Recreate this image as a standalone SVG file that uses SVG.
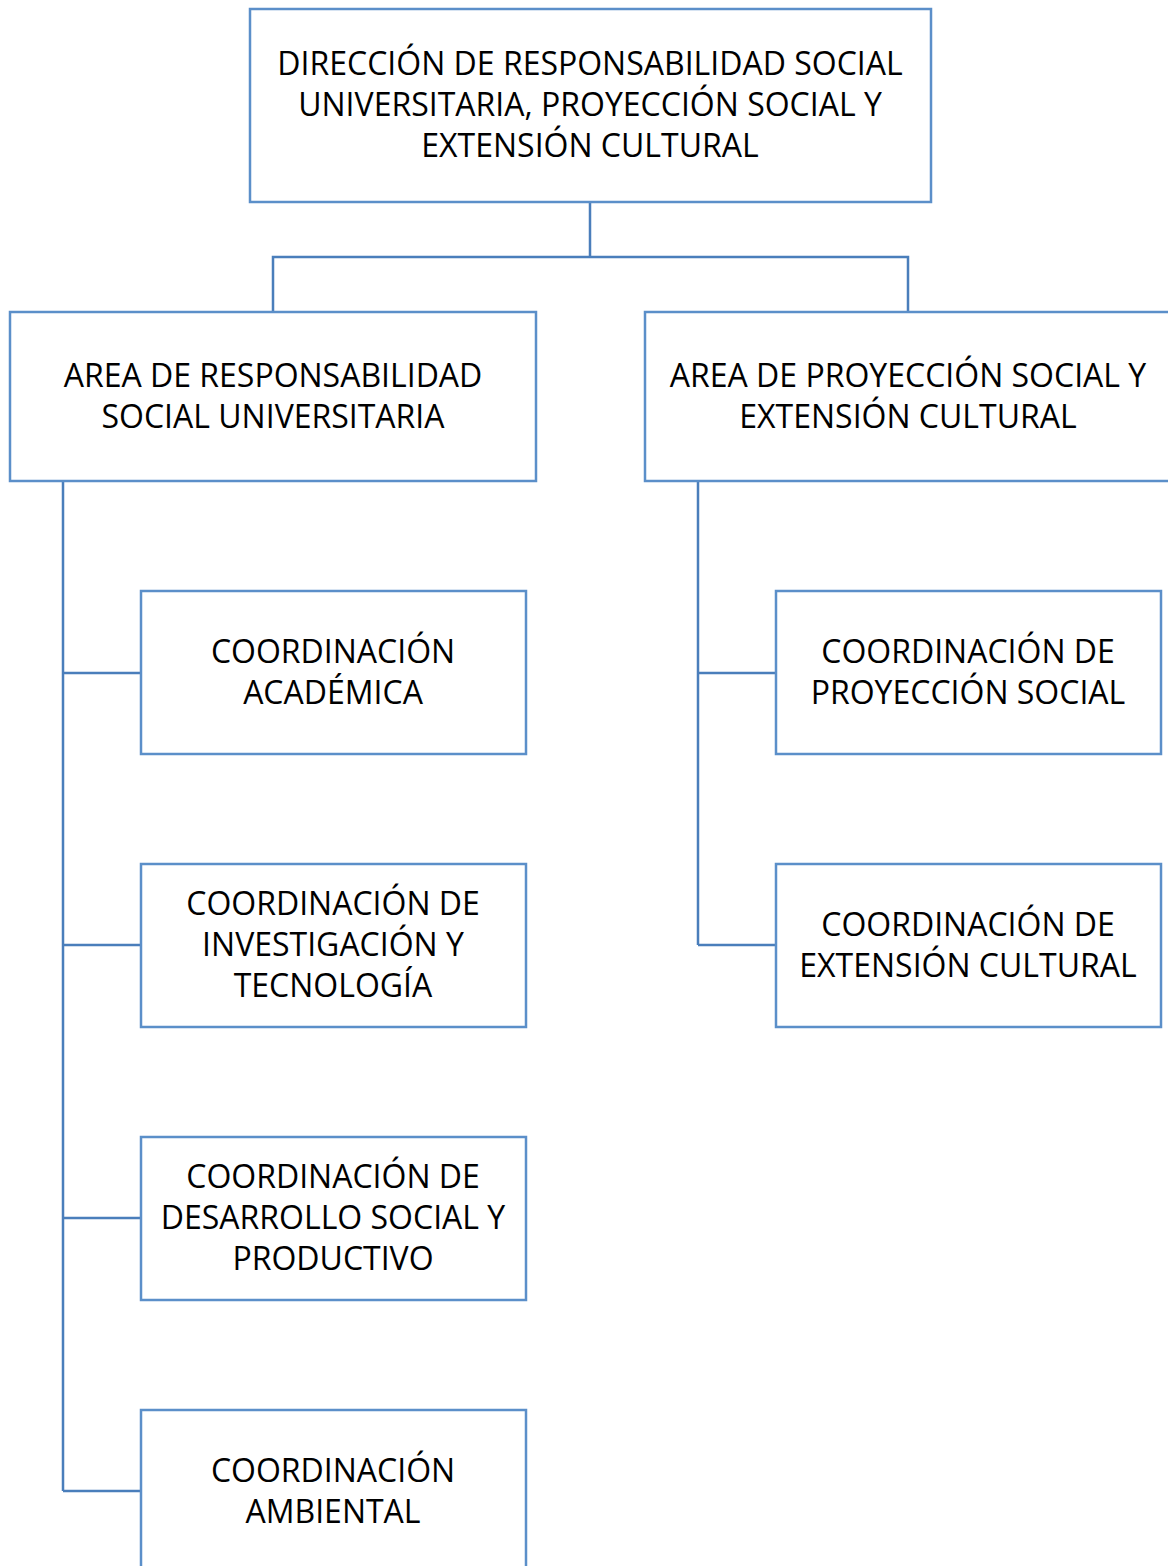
<svg xmlns="http://www.w3.org/2000/svg" width="1168" height="1566" viewBox="0 0 1168 1566">
<style>
.box{fill:#fff;stroke:#5B8FC9;stroke-width:2.5}
.t{font-family:"Open Sans","Liberation Sans",sans-serif;font-size:32px;fill:#000;text-anchor:middle}
.c{fill:none;stroke:#4A7EBB;stroke-width:2.5}
</style>
<rect width="1168" height="1566" fill="#fff"/>
<g id="connectors">
<path class="c" d="M590,202 V257 M273,312 V257 H908 V312"/>
<path class="c" d="M63,481 V1491 M63,673 H141 M63,945 H141 M63,1218 H141 M63,1491 H141"/>
<path class="c" d="M698,481 V945 M698,673 H776 M698,945 H776"/>
</g>
<g id="n0"><rect class="box" x="250" y="9" width="681" height="193"/>
<text class="t" x="590" y="75">DIRECCIÓN DE RESPONSABILIDAD SOCIAL</text>
<text class="t" x="590" y="116">UNIVERSITARIA, PROYECCIÓN SOCIAL Y</text>
<text class="t" x="590" y="157">EXTENSIÓN CULTURAL</text></g>
<g id="n1"><rect class="box" x="10" y="312" width="526" height="169"/>
<text class="t" x="273" y="387">AREA DE RESPONSABILIDAD</text>
<text class="t" x="273" y="428">SOCIAL UNIVERSITARIA</text></g>
<g id="n2"><rect class="box" x="645" y="312" width="530" height="169"/>
<text class="t" x="908" y="387">AREA DE PROYECCIÓN SOCIAL Y</text>
<text class="t" x="908" y="428">EXTENSIÓN CULTURAL</text></g>
<g id="n3"><rect class="box" x="141" y="591" width="385" height="163"/>
<text class="t" x="333" y="663">COORDINACIÓN</text>
<text class="t" x="333" y="704">ACADÉMICA</text></g>
<g id="n4"><rect class="box" x="141" y="864" width="385" height="163"/>
<text class="t" x="333" y="915">COORDINACIÓN DE</text>
<text class="t" x="333" y="956">INVESTIGACIÓN Y</text>
<text class="t" x="333" y="997">TECNOLOGÍA</text></g>
<g id="n5"><rect class="box" x="141" y="1137" width="385" height="163"/>
<text class="t" x="333" y="1188">COORDINACIÓN DE</text>
<text class="t" x="333" y="1229">DESARROLLO SOCIAL Y</text>
<text class="t" x="333" y="1270">PRODUCTIVO</text></g>
<g id="n6"><rect class="box" x="141" y="1410" width="385" height="170"/>
<text class="t" x="333" y="1482">COORDINACIÓN</text>
<text class="t" x="333" y="1523">AMBIENTAL</text></g>
<g id="n7"><rect class="box" x="776" y="591" width="385" height="163"/>
<text class="t" x="968" y="663">COORDINACIÓN DE</text>
<text class="t" x="968" y="704">PROYECCIÓN SOCIAL</text></g>
<g id="n8"><rect class="box" x="776" y="864" width="385" height="163"/>
<text class="t" x="968" y="936">COORDINACIÓN DE</text>
<text class="t" x="968" y="977">EXTENSIÓN CULTURAL</text></g>
</svg>
